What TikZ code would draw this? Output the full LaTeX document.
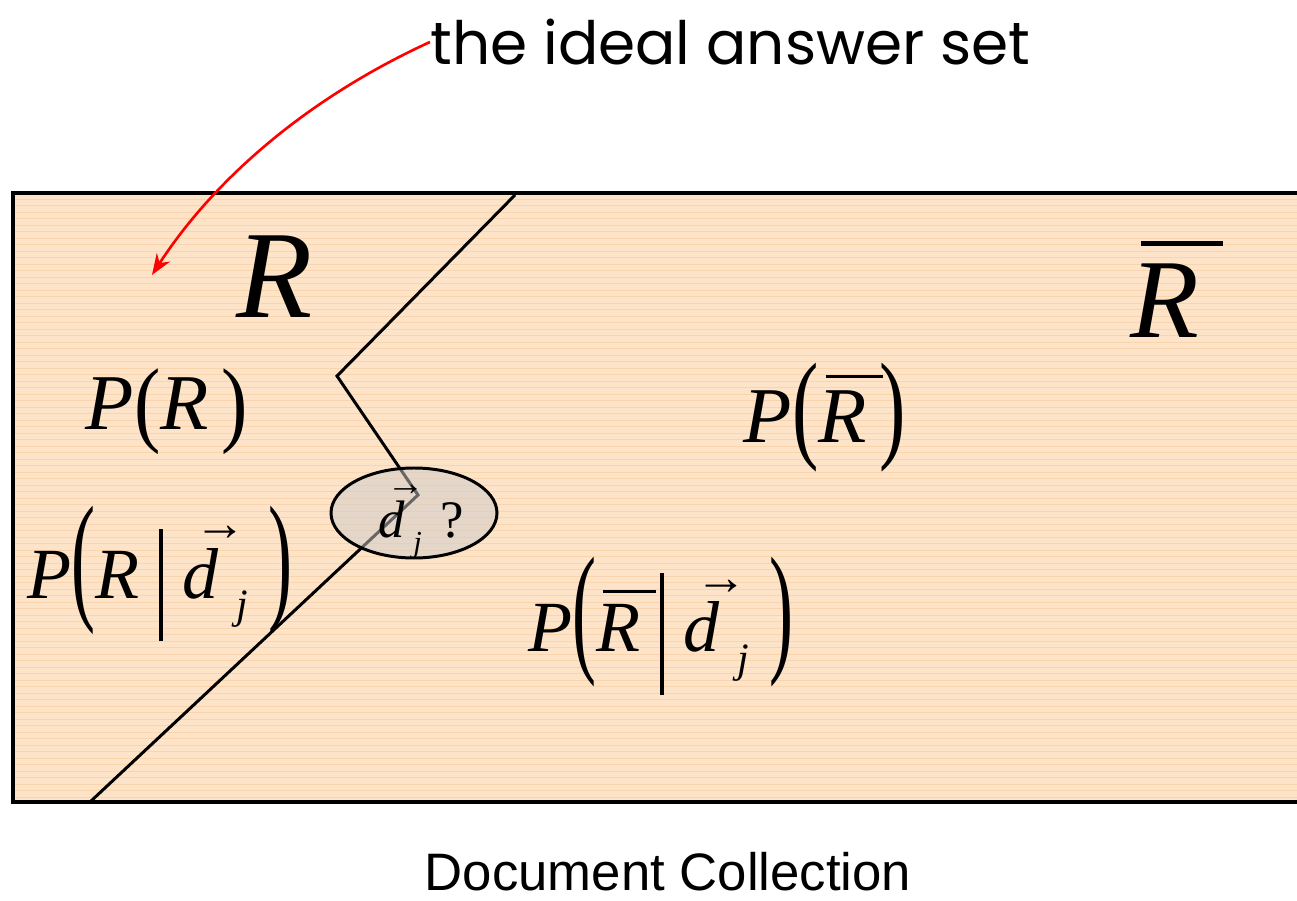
\documentclass[tikz,border=0pt]{standalone}
\usepackage{graphicx}
\usepackage{fontspec}
\setmainfont{Liberation Serif}
\newfontfamily\handfont{Poppins}
\newfontfamily\arialfont{Liberation Sans}
\usetikzlibrary{arrows.meta, positioning, shapes.geometric}

\definecolor{peach}{RGB}{253,228,200}
\definecolor{stripe}{RGB}{250,212,172}

% stretched parenthesis: scale, drop, glyph
\newcommand{\tallp}[3]{\raisebox{#2}{\scalebox{1}[#1]{#3}}}
% conditional bar: height, depth
\newcommand{\cbar}[2]{\rule[-#2]{0.045em}{\dimexpr#1+#2\relax}}
% vector d, subscript j, R with bar
\newcommand{\dvec}{\leavevmode\rlap{\hspace{0.16em}\raisebox{0.8em}{\scalebox{0.72}[0.7]{→}}}\textit{d}}
\newcommand{\subj}{\raisebox{-0.28em}{\scalebox{0.58}{\textit{j}}}}
\newcommand{\Rbar}{\leavevmode\rlap{\hspace{0.09em}\raisebox{0.82em}{\rule{0.73em}{0.045em}}}\textit{R}}

\begin{document}
\begin{tikzpicture}[>=Stealth,
    lbl/.style={inner sep=0pt, anchor=base},
    boundary/.style={line width=1.7pt, line join=miter}]
  \useasboundingbox (0,0) rectangle (25.94,-18.02);
  % the collection
  \fill[peach] (0.26,-3.86) rectangle (26.2,-16.04);
  \foreach \y in {-3.98,-4.11,...,-16.0}
    \draw[stripe, line width=0.35pt] (0.3,\y) -- (26.2,\y);
  \draw[line width=1.8pt] (0.26,-3.86) rectangle (26.2,-16.04);

  % boundary of R
  \coordinate (top) at (10.3,-3.9);
  \coordinate (kneeA) at (6.74,-7.52);
  \coordinate (kneeB) at (8.36,-9.9);
  \coordinate (foot) at (1.8,-16.04);
  \draw[boundary] (top) -- (kneeA) -- (kneeB) -- (foot);

  % the document in question
  \node[ellipse, draw, line width=1.7pt, fill=gray!40, fill opacity=0.5,
        text opacity=1, minimum width=3.32cm, minimum height=1.8cm]
        (doc) at (8.28,-10.26) {};
  \node[lbl, font=\fontsize{30}{36}\selectfont] (dj) at (8.42,-10.76)
        {\dvec\,\subj\hspace{0.35em}?};

  % labels
  \node[lbl, font=\fontsize{71}{80}\selectfont] (rel) at (5.5,-6.36) {\textit{R}};
  \node[lbl, font=\fontsize{64}{72}\selectfont] (nonrel) at (23.3,-6.76) {\Rbar};
  \node[lbl, font=\fontsize{45}{54}\selectfont] (pr) at (3.34,-8.6)
        {\textit{P}\tallp{1.2}{-0.06em}{(}\textit{R}\,\tallp{1.2}{-0.06em}{)}};
  \node[lbl, font=\fontsize{45}{54}\selectfont] (pnr) at (16.5,-8.86)
        {\textit{P}\tallp{1.52}{-0.04em}{(}\Rbar\,\tallp{1.52}{-0.04em}{)}};
  \node[lbl, font=\fontsize{41}{50}\selectfont] (prd) at (3.2,-11.96)
        {\textit{P}\tallp{1.97}{-0.09em}{(}\textit{R}\;\cbar{0.96em}{0.6em}\;\dvec\ \subj\;\tallp{1.97}{-0.09em}{)}};
  \node[lbl, font=\fontsize{41}{50}\selectfont] (pnrd) at (13.22,-13.04)
        {\textit{P}\tallp{1.99}{-0.06em}{(}\Rbar\;\cbar{1.1em}{0.59em}\;\dvec\ \subj\;\tallp{1.99}{-0.06em}{)}};

  % the ideal answer set
  \node[lbl, anchor=west, font=\handfont\fontsize{34}{40}\selectfont] (ideal) at (8.6,-0.84)
        {the ideal answer set};
  \coordinate (aim) at (3.04,-5.5);
  \draw[-{Stealth[length=12pt, width=9pt]}, red, line width=1.5pt]
    (ideal.west) .. controls (5.9,-2.08) and (4.14,-3.8) .. (aim);

  \node[lbl, font=\arialfont\fontsize{30}{36}\selectfont] (coll) at (13.36,-17.8)
        {Document Collection};
\end{tikzpicture}
\end{document}
